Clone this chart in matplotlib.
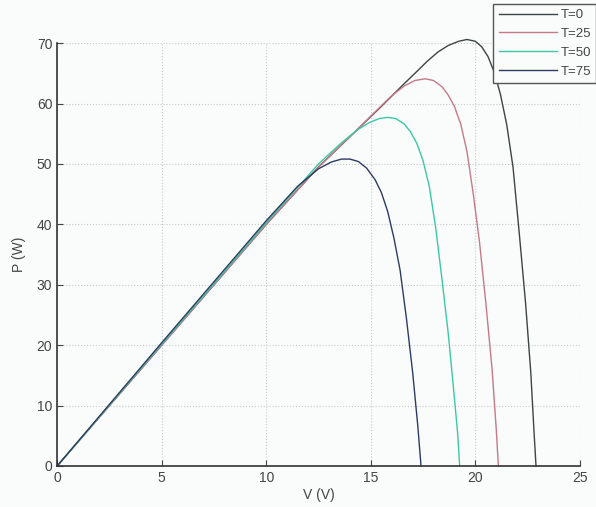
import matplotlib.pyplot as plt

plt.rcParams['font.family'] = ['Liberation Sans', 'DejaVu Sans']

# P-V curves, one per temperature
v_t0 = [0, 2.5, 5, 7.5, 10, 12.5, 14, 15.5, 16.6, 17.2, 17.7, 18.2, 18.7, 19.2,
        19.6, 20.0, 20.3, 20.6, 20.9, 21.2, 21.5, 21.8, 22.1, 22.4, 22.65, 22.8, 22.9]
p_t0 = [0, 10, 20, 30, 40, 49.5, 54.5, 59.5, 63.3, 65.3, 67, 68.5, 69.6, 70.3,
        70.6, 70.3, 69.4, 67.8, 65.2, 61.5, 56.5, 49.5, 38.5, 27, 15.5, 6, 0]

v_t25 = [0, 2.5, 5, 7.5, 10, 12.5, 14, 15.2, 16.0, 16.6, 17.1, 17.6, 18.0, 18.4,
         18.7, 19.0, 19.3, 19.6, 19.9, 20.2, 20.5, 20.8, 21.0, 21.1]
p_t25 = [0, 10, 20, 30, 40, 49.5, 54.5, 58.6, 61.3, 62.9, 63.8, 64.1, 63.8, 62.8,
         61.4, 59.5, 56.6, 52, 45, 37, 27, 16, 6, 0]

v_t50 = [0, 2.5, 5, 7.5, 10, 12.5, 13.5, 14.3, 14.9, 15.4, 15.8, 16.2, 16.6, 16.9,
         17.2, 17.5, 17.8, 18.1, 18.4, 18.7, 18.95, 19.15, 19.25]
p_t50 = [0, 10.1, 20.2, 30.2, 40.3, 50, 53.2, 55.5, 56.8, 57.5, 57.7, 57.5, 56.6, 55.3,
         53.4, 50.5, 46.2, 39.5, 31, 22, 13, 5.5, 0]

v_t75 = [0, 2.5, 5, 7.5, 10, 11.5, 12.5, 13.1, 13.6, 14.0, 14.4, 14.8, 15.2, 15.5,
         15.8, 16.1, 16.4, 16.7, 17.0, 17.25, 17.4]
p_t75 = [0, 10.2, 20.4, 30.5, 40.6, 46.3, 49.2, 50.3, 50.8, 50.8, 50.4, 49.3, 47.4, 45.3,
         42.2, 37.8, 32.4, 24.5, 15.5, 6.5, 0]

curves = [
    (v_t0, p_t0, 'T=0', '#3c4444'),
    (v_t25, p_t25, 'T=25', '#c47a88'),
    (v_t50, p_t50, 'T=50', '#3cc8a4'),
    (v_t75, p_t75, 'T=75', '#2c3c62'),
]

fig = plt.figure(figsize=(5.96, 5.07), dpi=100, facecolor='#fafbfb')
ax = fig.add_axes([0.096, 0.081, 0.877, 0.834])
ax.set_facecolor('#fafbfb')

lines = []
for v, p, label, color in curves:
    ln, = ax.plot(v, p, color=color, lw=1.0, label=label, clip_on=False)
    lines.append(ln)

ax.set_xlim(0, 25)
ax.set_ylim(0, 70)
ax.set_xticks([0, 5, 10, 15, 20, 25])
ax.set_yticks(range(0, 71, 10))
ax.grid(True, ls=':', color='#c8cccc', lw=0.8)
ax.tick_params(direction='in', length=4, labelsize=10, colors='#444444')
for side in ['top', 'right']:
    ax.spines[side].set_visible(False)
for side in ['left', 'bottom']:
    ax.spines[side].set_color('#333333')
    ax.spines[side].set_linewidth(1.2)

ax.set_xlabel('V (V)', fontsize=10, color='#444444', labelpad=2)
ax.set_ylabel('P (W)', fontsize=10, color='#444444', labelpad=8)

leg = fig.legend(handles=lines, loc='upper right', bbox_to_anchor=(1.005, 0.998),
                 fontsize=9.5, handlelength=4.4, handletextpad=0.3,
                 labelspacing=0.5, borderpad=0.4, borderaxespad=0.2,
                 fancybox=False, framealpha=1, edgecolor='#555555',
                 labelcolor='#444444')
leg.get_frame().set_facecolor('#fafbfb')

fig.savefig('out.png', dpi=100, facecolor=fig.get_facecolor())
